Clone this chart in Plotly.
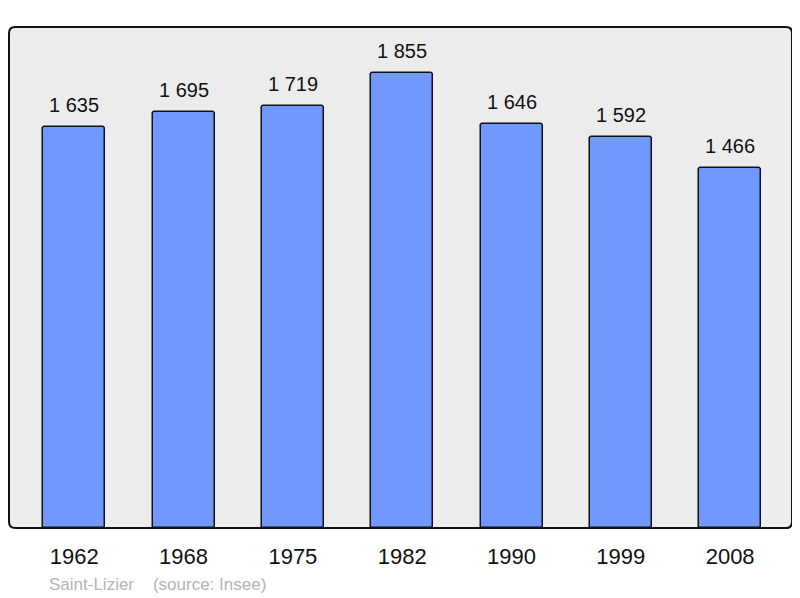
import plotly.graph_objects as go

years = ["1962", "1968", "1975", "1982", "1990", "1999", "2008"]
population = [1635, 1695, 1719, 1855, 1646, 1592, 1466]
labels = ["1 635", "1 695", "1 719", "1 855", "1 646", "1 592", "1 466"]

xs = list(range(len(years)))
FONT = "Liberation Sans, Arial, sans-serif"

fig = go.Figure()
fig.add_trace(go.Bar(
    x=xs, y=population, width=0.567,
    marker=dict(color="#7098ff", line=dict(color="#111111", width=1.5), cornerradius=3),
    hoverinfo="skip",
))

for x, v, t in zip(xs, population, labels):
    fig.add_annotation(x=x, y=v, text=t, showarrow=False, yanchor="bottom", yshift=9,
                       font=dict(size=20, color="#111111", family=FONT))

fig.add_annotation(xref="paper", yref="paper", x=0.049, y=-0.112, xanchor="left", yanchor="middle",
                   text="Saint-Lizier&nbsp;&nbsp;&nbsp;&nbsp;(source: Insee)", showarrow=False,
                   font=dict(size=17, color="#b4b4b4", family=FONT))

# rounded frame
r = 0.008
ry = r * 783 / 501
fig.add_shape(type="path", xref="paper", yref="paper",
              path=(f"M {r},0 L {1-r},0 Q 1,0 1,{ry} L 1,{1-ry} Q 1,1 {1-r},1 "
                    f"L {r},1 Q 0,1 0,{1-ry} L 0,{ry} Q 0,0 {r},0 Z"),
              line=dict(color="#111111", width=2), layer="above")

fig.update_layout(
    width=792, height=590,
    margin=dict(l=1, r=8, t=19, b=70),
    paper_bgcolor="white", plot_bgcolor="#ececec",
    showlegend=False,
    bargap=0,
    xaxis=dict(range=[-0.597, 6.566], tickvals=xs, ticktext=years, showgrid=False, zeroline=False,
               ticks="outside", ticklen=9, tickcolor="rgba(0,0,0,0)",
               tickfont=dict(size=22, color="#111111", family=FONT),
               fixedrange=True),
    yaxis=dict(range=[0, 2042], showgrid=False, zeroline=False, showticklabels=False, fixedrange=True),
)

fig.write_html("out.html")
